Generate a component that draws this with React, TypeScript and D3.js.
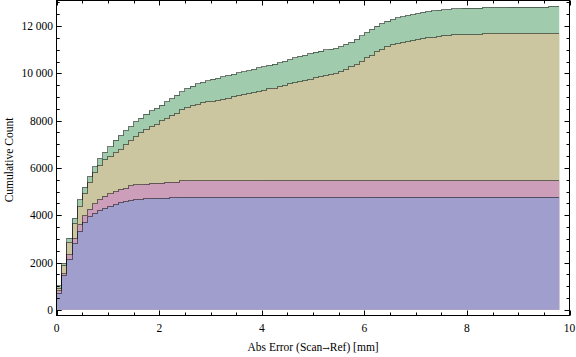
import React from "react";
import * as d3 from "d3";

const BIN_WIDTH = 0.1;

const blueCounts = [
  710, 1440, 2145, 2790, 3320, 3700, 3930, 4090, 4200, 4300,
  4370, 4440, 4540, 4575, 4620, 4650, 4670, 4690, 4710, 4715,
  4720, 4725, 4740, 4755, 4760, 4760, 4760, 4760, 4760, 4760,
  4760, 4760, 4760, 4760, 4760, 4760, 4760, 4760, 4760, 4760,
  4760, 4765, 4765, 4765, 4765, 4765, 4765, 4765, 4765, 4765,
  4765, 4765, 4765, 4765, 4765, 4765, 4765, 4765, 4765, 4765,
  4765, 4770, 4770, 4770, 4770, 4770, 4770, 4770, 4770, 4770,
  4770, 4770, 4770, 4770, 4770, 4770, 4770, 4770, 4770, 4770,
  4770, 4770, 4770, 4770, 4770, 4770, 4770, 4770, 4770, 4770,
  4770, 4770, 4770, 4770, 4770, 4770, 4770, 4770,
];

const pinkCounts = [
  800, 1520, 2320, 3020, 3590, 3970, 4250, 4480, 4670, 4810,
  4900, 5000, 5100, 5140, 5240, 5280, 5290, 5310, 5350, 5355,
  5360, 5390, 5395, 5400, 5450, 5450, 5450, 5450, 5450, 5450,
  5450, 5450, 5450, 5450, 5450, 5450, 5450, 5450, 5450, 5450,
  5450, 5455, 5455, 5455, 5455, 5455, 5455, 5455, 5455, 5455,
  5455, 5455, 5455, 5455, 5455, 5455, 5455, 5455, 5455, 5455,
  5455, 5455, 5455, 5455, 5455, 5455, 5455, 5455, 5455, 5455,
  5460, 5460, 5460, 5460, 5460, 5460, 5460, 5460, 5460, 5460,
  5460, 5460, 5460, 5460, 5460, 5460, 5460, 5460, 5460, 5460,
  5460, 5460, 5460, 5460, 5460, 5460, 5460, 5460,
];

const oliveCounts = [
  920, 1870, 2860, 3660, 4390, 4930, 5390, 5800, 6100, 6340,
  6480, 6660, 6800, 6970, 7180, 7320, 7490, 7630, 7750, 7840,
  8000, 8100, 8200, 8310, 8450, 8560, 8630, 8700, 8760, 8800,
  8830, 8860, 8900, 8940, 9000, 9060, 9100, 9140, 9180, 9240,
  9280, 9340, 9380, 9440, 9480, 9550, 9600, 9650, 9690, 9760,
  9820, 9860, 9900, 9950, 10000, 10070, 10170, 10280, 10390, 10520,
  10670, 10770, 10910, 11010, 11120, 11200, 11250, 11300, 11340, 11380,
  11420, 11460, 11500, 11530, 11550, 11580, 11600, 11630, 11630, 11630,
  11630, 11630, 11630, 11690, 11690, 11690, 11690, 11690, 11690, 11690,
  11690, 11690, 11690, 11690, 11690, 11690, 11690, 11690,
];

const greenCounts = [
  1010, 1970, 3030, 3870, 4650, 5180, 5640, 6050, 6400, 6660,
  6900, 7180, 7370, 7580, 7750, 7960, 8100, 8280, 8420, 8520,
  8660, 8800, 8940, 9080, 9220, 9360, 9460, 9550, 9620, 9680,
  9760, 9790, 9860, 9910, 9960, 10030, 10070, 10110, 10170, 10240,
  10280, 10340, 10390, 10450, 10510, 10590, 10660, 10720, 10770, 10840,
  10900, 10940, 10990, 11020, 11060, 11130, 11230, 11310, 11440, 11580,
  11730, 11860, 12000, 12110, 12210, 12280, 12350, 12390, 12450, 12490,
  12530, 12580, 12620, 12650, 12670, 12690, 12700, 12730, 12730, 12760,
  12760, 12760, 12760, 12790, 12790, 12790, 12790, 12790, 12800, 12800,
  12800, 12800, 12800, 12800, 12800, 12800, 12840, 12840,
];

const xTickLabels = ["0", "2", "4", "6", "8", "10"];
const xTickValues = [0, 2, 4, 6, 8, 10];
const yTickLabels = ["0", "2000", "4000", "6000", "8000", "10 000", "12 000"];
const yTickValues = [0, 2000, 4000, 6000, 8000, 10000, 12000];

const series = [
  { name: "green", counts: greenCounts, fill: "rgb(160,203,172)" },
  { name: "olive", counts: oliveCounts, fill: "rgb(203,198,160)" },
  { name: "pink", counts: pinkCounts, fill: "rgb(204,158,185)" },
  { name: "blue", counts: blueCounts, fill: "rgb(160,158,205)" },
];

const W = 576;
const H = 357;
const FONT = "'Liberation Serif', 'Times New Roman', serif";

export default function App() {
  const x = d3.scaleLinear().domain([0, 10]).range([56.7, 569.5]);
  const y = d3.scaleLinear().domain([-240, 13080]).range([315.5, 0.5]);

  const toPts = (counts: number[]) => {
    const pts: [number, number][] = counts.map((c, i) => [i * BIN_WIDTH, c]);
    pts.push([counts.length * BIN_WIDTH, counts[counts.length - 1]]);
    return pts;
  };

  const area = d3
    .area<[number, number]>()
    .x((d) => x(d[0]))
    .y0(() => y(0))
    .y1((d) => y(d[1]))
    .curve(d3.curveStepAfter);

  const line = d3
    .line<[number, number]>()
    .x((d) => x(d[0]))
    .y((d) => y(d[1]))
    .curve(d3.curveStepAfter);

  const left = x(0);
  const right = x(10);
  const top = y(13080);
  const bottom = y(-240);

  const xMinor = d3.range(0, 10.01, 0.5);
  const yMinor = d3.range(0, 13001, 500);

  return (
    <svg
      width={W}
      height={H}
      style={{ position: "absolute", left: 0, top: 0, background: "#fff" }}
    >
      {series.map((s) => (
        <path key={s.name + "a"} d={area(toPts(s.counts)) || ""} fill={s.fill} />
      ))}
      {series.map((s) => (
        <path
          key={s.name + "l"}
          d={line(toPts(s.counts)) || ""}
          fill="none"
          stroke="rgba(0,0,0,0.5)"
          strokeWidth={1}
          shapeRendering="crispEdges"
        />
      ))}
      <rect
        x={left}
        y={top}
        width={right - left}
        height={bottom - top}
        fill="none"
        stroke="#000"
        strokeWidth={1}
        shapeRendering="crispEdges"
      />
      {xMinor.map((v) => {
        const major = Math.abs(v - Math.round(v / 2) * 2) < 1e-6;
        const len = major ? 5 : 3;
        const px = Math.round(x(v)) + 0.5;
        return (
          <g key={"xt" + v}>
            <line x1={px} x2={px} y1={bottom} y2={bottom - len} stroke="#000" />
            <line x1={px} x2={px} y1={top} y2={top + len} stroke="#000" />
          </g>
        );
      })}
      {yMinor.map((v) => {
        const major = v % 2000 === 0;
        const len = major ? 5 : 3;
        const py = Math.round(y(v)) + 0.5;
        return (
          <g key={"yt" + v}>
            <line x1={left} x2={left + len} y1={py} y2={py} stroke="#000" />
            <line x1={right} x2={right - len} y1={py} y2={py} stroke="#000" />
          </g>
        );
      })}
      {xTickValues.map((v, i) => (
        <text
          key={"xl" + v}
          x={x(v)}
          y={331.5}
          textAnchor="middle"
          fontFamily={FONT}
          fontSize={11.5}
          fill="#000"
        >
          {xTickLabels[i]}
        </text>
      ))}
      {yTickValues.map((v, i) => (
        <text
          key={"yl" + v}
          x={53}
          y={y(v)}
          dy="0.35em"
          textAnchor="end"
          fontFamily={FONT}
          fontSize={11.5}
          fill="#000"
        >
          {yTickLabels[i]}
        </text>
      ))}
      <text
        x={(left + right) / 2}
        y={351}
        textAnchor="middle"
        fontFamily={FONT}
        fontSize={11.5}
        fill="#000"
      >
        Abs Error (Scan
        <tspan fontFamily="'DejaVu Serif', serif" fontSize={9}>→</tspan>
        Ref) [mm]
      </text>
      <text
        transform={`translate(13, 160) rotate(-90)`}
        textAnchor="middle"
        fontFamily={FONT}
        fontSize={11.5}
        fill="#000"
      >
        Cumulative Count
      </text>
    </svg>
  );
}
